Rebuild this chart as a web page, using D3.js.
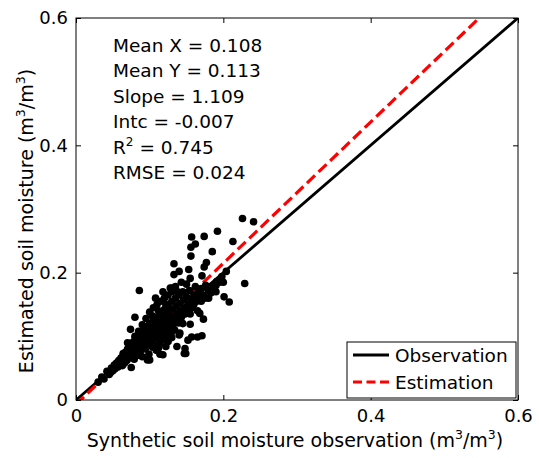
<!DOCTYPE html>
<html>
<head>
<meta charset="utf-8">
<script src="https://cdn.jsdelivr.net/npm/d3@7"></script>
<style>
body { margin:0; background:#fff; }
text { font-family: "DejaVu Sans", Verdana, sans-serif; }
</style>
</head>
<body>
<div id="plot"></div>
<script>
var obsX = [0.030,0.035,0.038,0.042,0.045,0.048,0.050,0.052,0.047,
	0.053,0.055,0.057,0.058,0.060,0.061,0.062,0.063,0.064,0.065,0.066,0.067,0.068,0.069,0.070,
	0.071,0.072,0.073,0.074,0.075,0.076,0.077,0.078,0.079,0.080,0.081,0.082,0.083,0.084,0.085,0.086,0.087,0.088,0.089,0.090,0.090,
	0.091,0.092,0.093,0.094,0.095,0.096,0.097,0.098,0.099,0.100,0.101,0.102,0.103,0.104,0.105,0.106,0.107,0.108,0.109,0.110,
	0.111,0.112,0.113,0.114,0.115,0.116,0.117,0.118,0.119,0.120,0.121,0.122,0.123,0.124,0.125,0.126,0.127,0.128,0.129,0.130,
	0.131,0.132,0.133,0.134,0.135,0.136,0.137,0.138,0.140,0.141,0.142,0.143,0.145,0.146,0.147,0.148,0.150,
	0.152,0.154,0.156,0.158,0.160,0.162,0.164,0.166,0.168,0.170,0.173,0.176,0.180,0.183,0.187,0.190,
	0.097,0.100,0.114,0.118,0.122,0.147,
	0.095,0.100,0.105,0.110,0.115,0.120,0.125,0.130,0.118,0.108,0.112,0.090,0.085,0.080,0.104,0.128,0.135,0.122,0.138,
	0.105,0.112,0.125,0.130,0.135,0.145,0.150,0.155,0.160,0.165,0.170,0.175,0.180,0.185,0.190,0.195,0.200,
	0.226,0.241,0.192,0.157,0.174,0.213,0.162,0.156,0.185,0.156,0.133,0.177,0.174,0.140,0.153,0.133,
	0.171,0.155,0.204,0.198,0.229,0.130,0.143,0.150,0.191,0.186,0.086,0.201,0.208,0.080,0.074,0.070,
	0.075,0.064,0.140,0.149,0.137,0.157,0.165,0.171,0.139,0.155,0.173,0.168,0.141,0.152,0.148];
var estY = [0.028,0.036,0.033,0.045,0.040,0.050,0.046,0.055,0.043,
	0.049,0.058,0.052,0.062,0.056,0.066,0.060,0.054,0.070,0.063,0.058,0.075,0.068,0.062,0.080,
	0.072,0.066,0.085,0.077,0.070,0.090,0.082,0.074,0.064,0.095,0.087,0.078,0.070,0.100,0.092,0.084,0.075,0.105,0.097,0.088,0.068,
	0.110,0.102,0.093,0.080,0.115,0.106,0.098,0.088,0.072,0.120,0.110,0.102,0.093,0.083,0.125,0.115,0.107,0.097,0.078,0.130,
	0.120,0.111,0.101,0.090,0.136,0.125,0.116,0.106,0.095,0.142,0.131,0.121,0.111,0.100,0.148,0.137,0.126,0.116,0.105,0.155,
	0.143,0.131,0.120,0.110,0.160,0.148,0.136,0.125,0.165,0.152,0.140,0.130,0.170,0.157,0.145,0.135,0.162,
	0.150,0.172,0.158,0.145,0.165,0.178,0.155,0.170,0.160,0.175,0.165,0.180,0.172,0.168,0.176,0.170,
	0.063,0.063,0.072,0.071,0.084,0.073,
	0.128,0.138,0.145,0.150,0.155,0.160,0.165,0.170,0.170,0.160,0.140,0.118,0.108,0.100,0.132,0.176,0.178,0.150,0.170,
	0.088,0.082,0.092,0.098,0.125,0.120,0.140,0.135,0.150,0.140,0.155,0.160,0.160,0.170,0.180,0.185,0.185,
	0.285,0.280,0.265,0.256,0.257,0.249,0.245,0.240,0.233,0.226,0.214,0.216,0.209,0.202,0.205,0.197,
	0.195,0.191,0.202,0.194,0.183,0.176,0.185,0.182,0.186,0.178,0.172,0.162,0.154,0.130,0.111,0.090,
	0.051,0.073,0.102,0.073,0.084,0.099,0.099,0.101,0.121,0.119,0.127,0.136,0.105,0.094,0.081];

var xTicks = [0, 0.2, 0.4, 0.6];
var yTicks = [0, 0.2, 0.4, 0.6];
var statLabels = ['Mean X = 0.108', 'Mean Y = 0.113', 'Slope = 1.109', 'Intc = -0.007', 'R2 = 0.745', 'RMSE = 0.024'];
var fitSlope = 1.109, fitIntc = -0.007;

var W = 539, H = 458;
var margin = {t:18, r:21, b:58, l:76};
var width = W - margin.l - margin.r,
	height = H - margin.t - margin.b;

var svg = d3.select('#plot').append('svg')
	.attr('width', W).attr('height', H);

var x = d3.scaleLinear().domain([0, 0.6]).range([0, width]);
var y = d3.scaleLinear().domain([0, 0.6]).range([height, 0]);

var plot = svg.append('g').attr('transform', 'translate(' + margin.l + ',' + margin.t + ')');

plot.append('clipPath').attr('id', 'clip')
	.append('rect').attr('width', width).attr('height', height);

var lines = plot.append('g').attr('clip-path', 'url(#clip)');

// 1:1 line
lines.append('line')
	.attr('x1', x(0)).attr('y1', y(0))
	.attr('x2', x(0.6)).attr('y2', y(0.6))
	.attr('stroke', '#000').attr('stroke-width', 2.8);

// fitted line
lines.append('line')
	.attr('x1', x(0)).attr('y1', y(fitIntc))
	.attr('x2', x(0.6)).attr('y2', y(fitIntc + fitSlope * 0.6))
	.attr('stroke', '#ff0000').attr('stroke-width', 3.2)
	.attr('stroke-dasharray', '11,5');

// scatter
var pts = obsX.map(function (v, i) { return {x: v, y: estY[i]}; });
plot.append('g').selectAll('circle')
	.data(pts).enter().append('circle')
	.attr('cx', function (d) { return x(d.x); })
	.attr('cy', function (d) { return y(d.y); })
	.attr('r', 3.8)
	.attr('fill', '#000');

// axes, box style with inward ticks
function styleAxis(g, hideText) {
	g.select('.domain').remove();
	g.selectAll('.tick line').attr('stroke', '#000');
	g.selectAll('text').attr('font-size', 18).attr('fill', '#000')
		.attr('font-family', '"DejaVu Sans", Verdana, sans-serif');
	if (hideText) g.selectAll('text').remove();
}

var fmt = function (d) { return d === 0 ? '0' : d3.format('.1f')(d); };

plot.append('g').attr('transform', 'translate(0,' + height + ')')
	.call(d3.axisBottom(x).tickValues(xTicks).tickFormat(fmt).tickSize(-5).tickPadding(9))
	.call(function (g) { styleAxis(g, false); });
plot.append('g')
	.call(d3.axisTop(x).tickValues(xTicks).tickSize(-5))
	.call(function (g) { styleAxis(g, true); });
plot.append('g')
	.call(d3.axisLeft(y).tickValues(yTicks).tickFormat(fmt).tickSize(-5).tickPadding(8))
	.call(function (g) { styleAxis(g, false); });
plot.append('g').attr('transform', 'translate(' + width + ',0)')
	.call(d3.axisRight(y).tickValues(yTicks).tickSize(-5))
	.call(function (g) { styleAxis(g, true); });

plot.append('rect')
	.attr('width', width).attr('height', height)
	.attr('fill', 'none').attr('stroke', '#000').attr('stroke-width', 1);

// statistics text
var stats = plot.append('g').attr('font-size', 18.5);
statLabels.forEach(function (s, i) {
	var t = stats.append('text').attr('x', 37).attr('y', 34 + i * 25.4);
	if (s.indexOf('R2') === 0) {
		t.append('tspan').text('R');
		t.append('tspan').attr('dy', -8).attr('font-size', 12).text('2');
		t.append('tspan').attr('dy', 8).text(s.slice(2));
	} else {
		t.text(s);
	}
});

// legend
var leg = plot.append('g').attr('transform', 'translate(' + (347 - margin.l) + ',' + (342 - margin.t) + ')');
leg.append('rect').attr('width', 169).attr('height', 56)
	.attr('fill', '#fff').attr('stroke', '#000').attr('stroke-width', 1);
leg.append('line').attr('x1', 6).attr('x2', 42).attr('y1', 13).attr('y2', 13)
	.attr('stroke', '#000').attr('stroke-width', 2.8);
leg.append('line').attr('x1', 6).attr('x2', 42).attr('y1', 40).attr('y2', 40)
	.attr('stroke', '#ff0000').attr('stroke-width', 3.2).attr('stroke-dasharray', '9,4.5');
leg.append('text').attr('x', 48).attr('y', 19.5).attr('font-size', 18.5).text('Observation');
leg.append('text').attr('x', 48).attr('y', 46.5).attr('font-size', 18.5).text('Estimation');

// axis labels
function unitLabel(t, pre) {
	t.append('tspan').text(pre + ' (m');
	t.append('tspan').attr('dy', -8).attr('font-size', 12.5).text('3');
	t.append('tspan').attr('dy', 8).text('/m');
	t.append('tspan').attr('dy', -8).attr('font-size', 12.5).text('3');
	t.append('tspan').attr('dy', 8).text(')');
}
var xl = svg.append('text').attr('x', 295).attr('y', 447)
	.attr('text-anchor', 'middle').attr('font-size', 19);
unitLabel(xl, 'Synthetic soil moisture observation');

var yl = svg.append('text').attr('transform', 'translate(33,221) rotate(-90)')
	.attr('text-anchor', 'middle').attr('font-size', 19);
unitLabel(yl, 'Estimated soil moisture');
</script>
</body>
</html>
